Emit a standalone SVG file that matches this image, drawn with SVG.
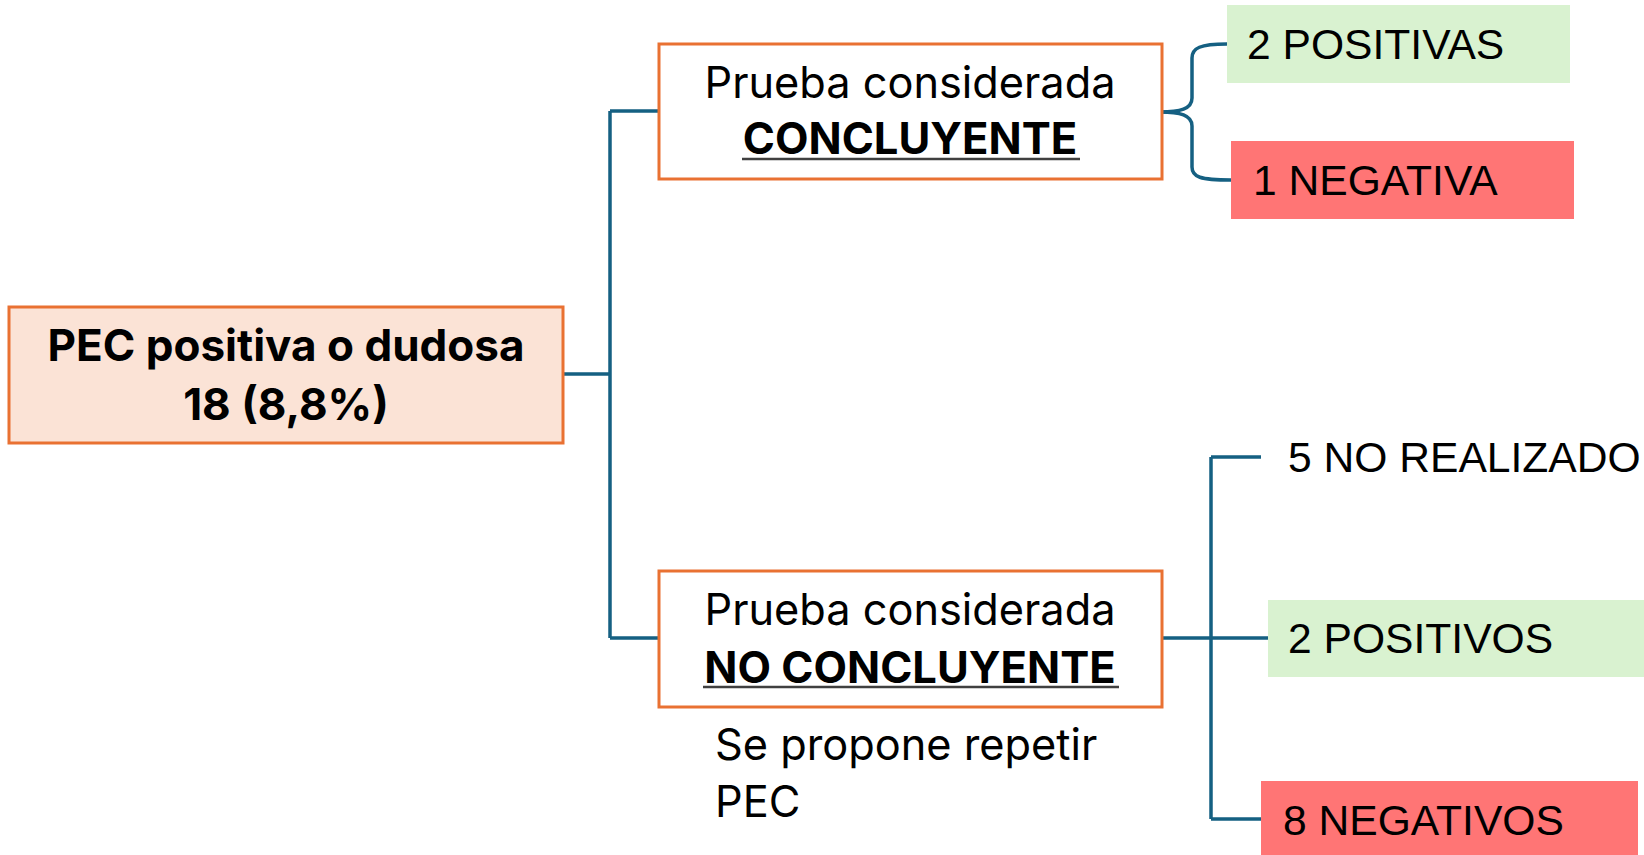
<svg xmlns="http://www.w3.org/2000/svg" width="1644" height="855" viewBox="0 0 1644 855">
<style>
.box{fill:#ffffff;stroke:#E97132;stroke-width:3}
.main{fill:#FBE3D6;stroke:#E97132;stroke-width:3}
.pos{fill:#D9F2D0}
.neg{fill:#FF7575}
.conn{fill:none;stroke:#156082;stroke-width:3.5}
.t{font-family:Inter,"Liberation Sans",sans-serif;fill:#000;font-size:43.3px}
.tb{font-family:Inter,"Liberation Sans",sans-serif;fill:#000;font-weight:bold}
.ul{stroke:#404040;stroke-width:2.5}
.lab{font-family:"Liberation Sans",Arial,sans-serif;fill:#000;font-size:42.6px}
</style>
<g id="connectors">
<path class="conn" d="M563,374 H610 M610,111 V638 M610,111 H659 M610,638 H659"/>
<path class="conn" d="M1160,112 C1180,112 1192,109 1192,98 L1192,58 C1192,48 1200,44 1227,44"/>
<path class="conn" d="M1160,112 C1180,112 1192,115 1192,126 L1192,167 C1192,177 1200,180 1231,180"/>
<path class="conn" d="M1162,638 H1268 M1211,457 V819 M1211,457 H1261 M1211,819 H1261"/>
</g>
<g id="node-main">
<rect class="main" x="9" y="307" width="554" height="136"/>
<text class="tb" x="286" y="361" font-size="44" text-anchor="middle">PEC positiva o dudosa</text>
<text class="tb" x="286" y="420" font-size="44" text-anchor="middle">18 (8,8%)</text>
</g>
<g id="node-concluyente">
<rect class="box" x="659" y="44" width="503" height="135"/>
<text class="t" x="910" y="98" text-anchor="middle">Prueba considerada</text>
<text class="tb" x="910" y="154" font-size="43.5" text-anchor="middle">CONCLUYENTE</text>
<line class="ul" x1="742" y1="159" x2="1080" y2="159"/>
</g>
<g id="node-no-concluyente">
<rect class="box" x="659" y="571" width="503" height="136"/>
<text class="t" x="910" y="625" text-anchor="middle">Prueba considerada</text>
<text class="tb" x="910" y="683" font-size="43.5" text-anchor="middle">NO CONCLUYENTE</text>
<line class="ul" x1="703" y1="687" x2="1119" y2="687"/>
</g>
<g id="note">
<text class="t" x="715" y="760">Se propone repetir</text>
<text class="t" x="715" y="817">PEC</text>
</g>
<g id="node-2-positivas">
<rect class="pos" x="1227" y="5" width="343" height="78"/>
<text class="lab" x="1247" y="59">2 POSITIVAS</text>
</g>
<g id="node-1-negativa">
<rect class="neg" x="1231" y="141" width="343" height="78"/>
<text class="lab" x="1253" y="195">1 NEGATIVA</text>
</g>
<g id="node-5-no-realizado">
<text class="lab" x="1288" y="472">5 NO REALIZADO</text>
</g>
<g id="node-2-positivos">
<rect class="pos" x="1268" y="600" width="376" height="77"/>
<text class="lab" x="1288" y="653">2 POSITIVOS</text>
</g>
<g id="node-8-negativos">
<rect class="neg" x="1261" y="781" width="377" height="74"/>
<text class="lab" x="1283" y="835">8 NEGATIVOS</text>
</g>
</svg>
